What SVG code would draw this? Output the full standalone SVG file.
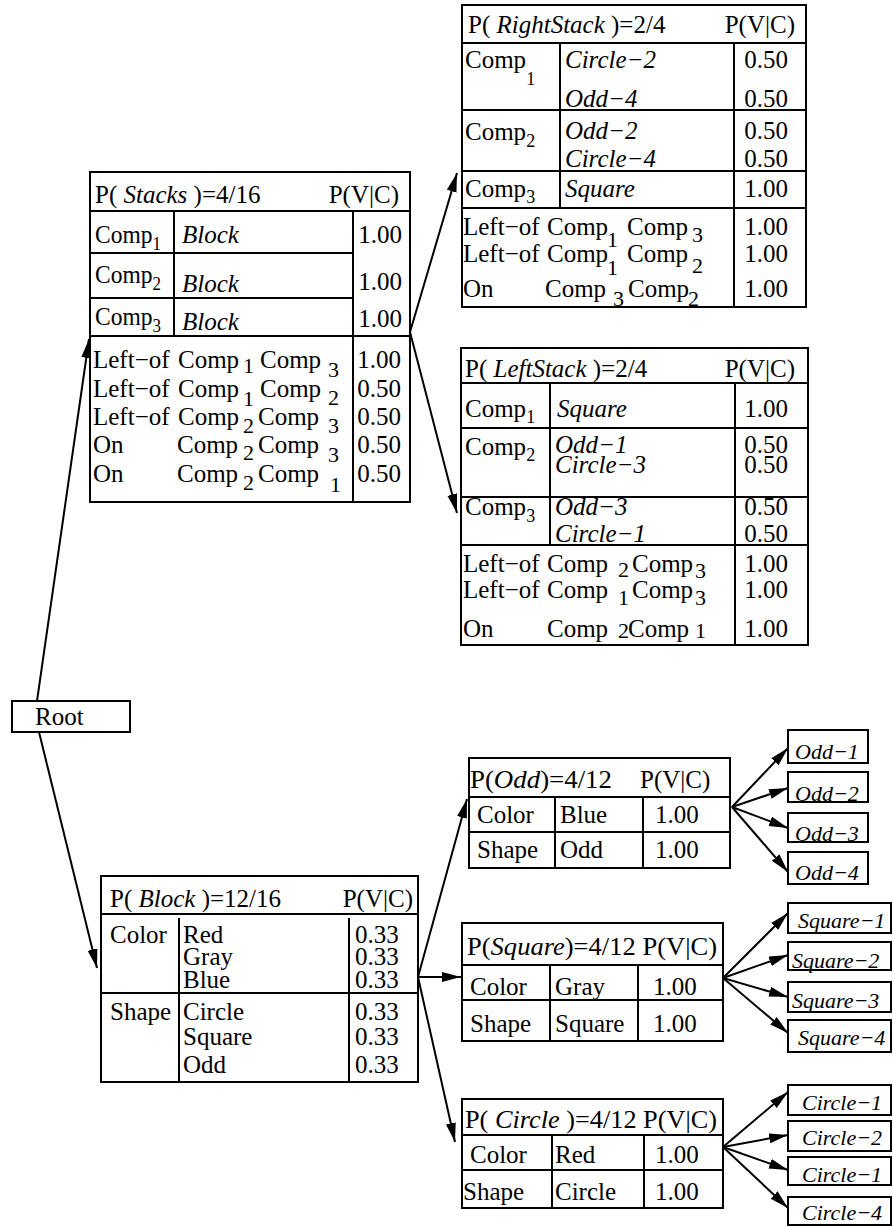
<svg xmlns="http://www.w3.org/2000/svg" width="893" height="1226" viewBox="0 0 893 1226">
<style>
text { font-family: "Liberation Serif", "Times New Roman", serif; font-size: 25px; fill: #000; }
.i { font-style: italic; }
.s { font-size: 18px; }
.r { font-size: 22px; }
.e { text-anchor: end; }
.lf { font-size: 22px; font-style: italic; }
.box { fill: #fff; stroke: #000; stroke-width: 2; }
.ln { stroke: #000; stroke-width: 2; fill: none; }
.c { stroke: #000; stroke-width: 2; fill: none; marker-end: url(#ah); }
</style>
<defs>
<marker id="ah" markerUnits="userSpaceOnUse" markerWidth="20" markerHeight="12" refX="19" refY="5" orient="auto">
<path d="M0,0 L19,5 L0,10 z" fill="#000"/>
</marker>
</defs>
<rect x="0" y="0" width="893" height="1226" fill="#fff"/>

<g id="connectors">
<line class="c" x1="37" y1="701" x2="89" y2="339"/>
<line class="c" x1="39" y1="732" x2="97" y2="968"/>
<line class="c" x1="410" y1="332" x2="457" y2="173"/>
<line class="c" x1="410" y1="332" x2="457" y2="513"/>
<line class="c" x1="418" y1="977" x2="467" y2="799"/>
<line class="c" x1="418" y1="977" x2="461" y2="977"/>
<line class="c" x1="418" y1="977" x2="455" y2="1142"/>
<line class="c" x1="732" y1="807" x2="788" y2="748"/>
<line class="c" x1="732" y1="807" x2="788" y2="788"/>
<line class="c" x1="732" y1="807" x2="788" y2="828"/>
<line class="c" x1="732" y1="807" x2="788" y2="872"/>
<line class="c" x1="723" y1="978" x2="788" y2="913"/>
<line class="c" x1="723" y1="978" x2="788" y2="955"/>
<line class="c" x1="723" y1="978" x2="788" y2="997"/>
<line class="c" x1="723" y1="978" x2="788" y2="1033"/>
<line class="c" x1="723" y1="1147" x2="788" y2="1092"/>
<line class="c" x1="723" y1="1147" x2="788" y2="1135"/>
<line class="c" x1="723" y1="1147" x2="788" y2="1170"/>
<line class="c" x1="723" y1="1147" x2="788" y2="1208"/>
</g>

<g id="root">
<rect class="box" x="12" y="701" width="118" height="31"/>
<text x="35" y="725">Root</text>
</g>

<g id="stacks">
<rect class="box" x="90" y="172" width="320" height="330"/>
<path class="ln" d="M90,211 H410 M90,253 H353 M90,298 H353 M90,336 H410 M174,211 V336 M353,211 V502"/>
<text x="95" y="203">P( <tspan class="i">Stacks</tspan> )=4/16</text>
<text class="e" x="399" y="203">P(V|C)</text>
<text x="95" y="243" textLength="66" lengthAdjust="spacingAndGlyphs">Comp<tspan class="s" dy="7">1</tspan></text>
<text x="95" y="283" textLength="66" lengthAdjust="spacingAndGlyphs">Comp<tspan class="s" dy="7">2</tspan></text>
<text x="95" y="325" textLength="66" lengthAdjust="spacingAndGlyphs">Comp<tspan class="s" dy="7">3</tspan></text>
<text class="i" x="182" y="243">Block</text>
<text class="i" x="182" y="292">Block</text>
<text class="i" x="182" y="330">Block</text>
<text class="e" x="402" y="243">1.00</text>
<text class="e" x="402" y="290">1.00</text>
<text class="e" x="402" y="327">1.00</text>
<text x="93" y="368">Left−of</text><text x="178" y="368">Comp</text><text class="r" x="243" y="373">1</text><text x="260" y="368">Comp</text><text class="r" x="328" y="377">3</text>
<text x="93" y="397">Left−of</text><text x="178" y="397">Comp</text><text class="r" x="243" y="406">1</text><text x="260" y="397">Comp</text><text class="r" x="328" y="405">2</text>
<text x="93" y="425">Left−of</text><text x="178" y="425">Comp</text><text class="r" x="243" y="433">2</text><text x="258" y="425">Comp</text><text class="r" x="328" y="433">3</text>
<text x="93" y="453">On</text><text x="177" y="453">Comp</text><text class="r" x="243" y="460">2</text><text x="258" y="453">Comp</text><text class="r" x="328" y="462">3</text>
<text x="93" y="482">On</text><text x="177" y="482">Comp</text><text class="r" x="243" y="490">2</text><text x="258" y="482">Comp</text><text class="r" x="330" y="492">1</text>
<text class="e" x="401" y="368">1.00</text>
<text class="e" x="401" y="397">0.50</text>
<text class="e" x="401" y="425">0.50</text>
<text class="e" x="401" y="453">0.50</text>
<text class="e" x="401" y="482">0.50</text>
</g>

<g id="rightstack">
<rect class="box" x="462" y="5" width="344" height="302"/>
<path class="ln" d="M462,43 H806 M462,110 H806 M462,171 H806 M462,208 H806 M560,43 V208 M734,43 V307"/>
<text x="468" y="33">P( <tspan class="i">RightStack</tspan> )=2/4</text>
<text class="e" x="795" y="33">P(V|C)</text>
<text x="465" y="68">Comp<tspan class="s" dy="17">1</tspan></text>
<text x="465" y="140">Comp<tspan class="s" dy="7">2</tspan></text>
<text x="465" y="197">Comp<tspan class="s" dy="6">3</tspan></text>
<text class="i" x="565" y="68">Circle−2</text>
<text class="i" x="565" y="107">Odd−4</text>
<text class="i" x="565" y="139">Odd−2</text>
<text class="i" x="565" y="167">Circle−4</text>
<text class="i" x="565" y="197">Square</text>
<text class="e" x="788" y="68">0.50</text>
<text class="e" x="788" y="107">0.50</text>
<text class="e" x="788" y="139">0.50</text>
<text class="e" x="788" y="167">0.50</text>
<text class="e" x="788" y="197">1.00</text>
<text x="463" y="235">Left−of</text><text x="547" y="235">Comp</text><text class="r" x="607" y="247">1</text><text x="627" y="235">Comp</text><text class="r" x="692" y="242">3</text>
<text x="463" y="262">Left−of</text><text x="547" y="262">Comp</text><text class="r" x="607" y="275">1</text><text x="627" y="262">Comp</text><text class="r" x="692" y="273">2</text>
<text x="463" y="297">On</text><text x="545" y="297">Comp</text><text class="r" x="613" y="306">3</text><text x="628" y="297">Comp</text><text class="r" x="688" y="306">2</text>
<text class="e" x="788" y="235">1.00</text>
<text class="e" x="788" y="262">1.00</text>
<text class="e" x="788" y="297">1.00</text>
</g>

<g id="leftstack">
<rect class="box" x="461" y="348" width="347" height="297"/>
<path class="ln" d="M461,383 H808 M461,428 H808 M461,497 H808 M461,545 H808 M550,383 V545 M735,383 V645"/>
<text x="465" y="377">P( <tspan class="i">LeftStack</tspan> )=2/4</text>
<text class="e" x="795" y="377">P(V|C)</text>
<text x="465" y="417">Comp<tspan class="s" dy="6">1</tspan></text>
<text x="465" y="455">Comp<tspan class="s" dy="6">2</tspan></text>
<text x="465" y="515">Comp<tspan class="s" dy="7">3</tspan></text>
<text class="i" x="557" y="417">Square</text>
<text class="i" x="555" y="453" font-size="23">Odd−1</text>
<text class="i" x="555" y="473" font-size="23">Circle−3</text>
<text class="i" x="555" y="515">Odd−3</text>
<text class="i" x="555" y="542">Circle−1</text>
<text class="e" x="788" y="417">1.00</text>
<text class="e" x="788" y="453">0.50</text>
<text class="e" x="788" y="473">0.50</text>
<text class="e" x="788" y="515">0.50</text>
<text class="e" x="788" y="542">0.50</text>
<text x="463" y="572">Left−of</text><text x="547" y="572">Comp</text><text class="r" x="618" y="577">2</text><text x="632" y="572">Comp</text><text class="r" x="695" y="578">3</text>
<text x="463" y="598">Left−of</text><text x="547" y="598">Comp</text><text class="r" x="618" y="605">1</text><text x="632" y="598">Comp</text><text class="r" x="695" y="605">3</text>
<text x="463" y="637">On</text><text x="547" y="637">Comp</text><text class="r" x="618" y="638">2</text><text x="628" y="637">Comp</text><text class="r" x="695" y="638">1</text>
<text class="e" x="788" y="572">1.00</text>
<text class="e" x="788" y="598">1.00</text>
<text class="e" x="788" y="637">1.00</text>
</g>

<g id="block">
<rect class="box" x="101" y="876" width="317" height="206"/>
<path class="ln" d="M101,914 H418 M101,993 H418 M179,918 V1082 M349,918 V1082"/>
<text x="110" y="907">P( <tspan class="i">Block</tspan> )=12/16</text>
<text class="e" x="413" y="907">P(V|C)</text>
<text x="110" y="943">Color</text>
<text x="183" y="943">Red</text>
<text x="183" y="965">Gray</text>
<text x="183" y="988">Blue</text>
<text x="110" y="1020">Shape</text>
<text x="183" y="1020">Circle</text>
<text x="183" y="1045">Square</text>
<text x="183" y="1073">Odd</text>
<text x="355" y="943">0.33</text>
<text x="355" y="965">0.33</text>
<text x="355" y="988">0.33</text>
<text x="355" y="1020">0.33</text>
<text x="355" y="1045">0.33</text>
<text x="355" y="1073">0.33</text>
</g>

<g id="odd">
<rect class="box" x="469" y="758" width="261" height="110"/>
<path class="ln" d="M469,797 H730 M469,832 H730 M555,797 V868 M643,797 V868"/>
<text x="470" y="788" textLength="142" lengthAdjust="spacingAndGlyphs">P(<tspan class="i">Odd</tspan>)=4/12</text>
<text x="640" y="788">P(V|C)</text>
<text x="477" y="823">Color</text><text x="560" y="823">Blue</text><text x="655" y="823">1.00</text>
<text x="477" y="858">Shape</text><text x="560" y="858">Odd</text><text x="655" y="858">1.00</text>
</g>
<g id="odd-1"><rect class="box" x="788" y="730" width="80" height="33"/><text class="lf" x="795" y="759">Odd−1</text></g>
<g id="odd-2"><rect class="box" x="788" y="772" width="80" height="30"/><text class="lf" x="795" y="801">Odd−2</text></g>
<g id="odd-3"><rect class="box" x="788" y="813" width="80" height="29"/><text class="lf" x="795" y="841">Odd−3</text></g>
<g id="odd-4"><rect class="box" x="788" y="852" width="80" height="32"/><text class="lf" x="795" y="880">Odd−4</text></g>

<g id="square">
<rect class="box" x="462" y="923" width="261" height="118"/>
<path class="ln" d="M462,965 H723 M462,1000 H723 M550,965 V1041 M638,965 V1041"/>
<text x="467" y="955" textLength="250" lengthAdjust="spacingAndGlyphs">P(<tspan class="i">Square</tspan>)=4/12 P(V|C)</text>
<text x="470" y="995">Color</text><text x="555" y="995">Gray</text><text x="653" y="995">1.00</text>
<text x="470" y="1032">Shape</text><text x="555" y="1032">Square</text><text x="653" y="1032">1.00</text>
</g>
<g id="square-1"><rect class="box" x="788" y="903" width="103" height="30"/><text class="lf" x="798" y="928">Square−1</text></g>
<g id="square-2"><rect class="box" x="788" y="942" width="103" height="28"/><text class="lf" x="792" y="968">Square−2</text></g>
<g id="square-3"><rect class="box" x="788" y="982" width="103" height="30"/><text class="lf" x="792" y="1008">Square−3</text></g>
<g id="square-4"><rect class="box" x="788" y="1020" width="103" height="32"/><text class="lf" x="798" y="1045">Square−4</text></g>

<g id="circle">
<rect class="box" x="462" y="1099" width="261" height="109"/>
<path class="ln" d="M462,1135 H723 M462,1170 H723 M552,1135 V1208 M644,1135 V1208"/>
<text x="465" y="1128" textLength="252" lengthAdjust="spacingAndGlyphs">P( <tspan class="i">Circle</tspan> )=4/12 P(V|C)</text>
<text x="470" y="1163">Color</text><text x="555" y="1163">Red</text><text x="655" y="1163">1.00</text>
<text x="463" y="1200">Shape</text><text x="555" y="1200">Circle</text><text x="655" y="1200">1.00</text>
</g>
<g id="circle-1a"><rect class="box" x="788" y="1085" width="103" height="30"/><text class="lf" x="802" y="1110">Circle−1</text></g>
<g id="circle-2"><rect class="box" x="788" y="1121" width="103" height="30"/><text class="lf" x="802" y="1145">Circle−2</text></g>
<g id="circle-1b"><rect class="box" x="788" y="1157" width="103" height="28"/><text class="lf" x="802" y="1182">Circle−1</text></g>
<g id="circle-4"><rect class="box" x="788" y="1197" width="103" height="28"/><text class="lf" x="802" y="1220">Circle−4</text></g>
</svg>
